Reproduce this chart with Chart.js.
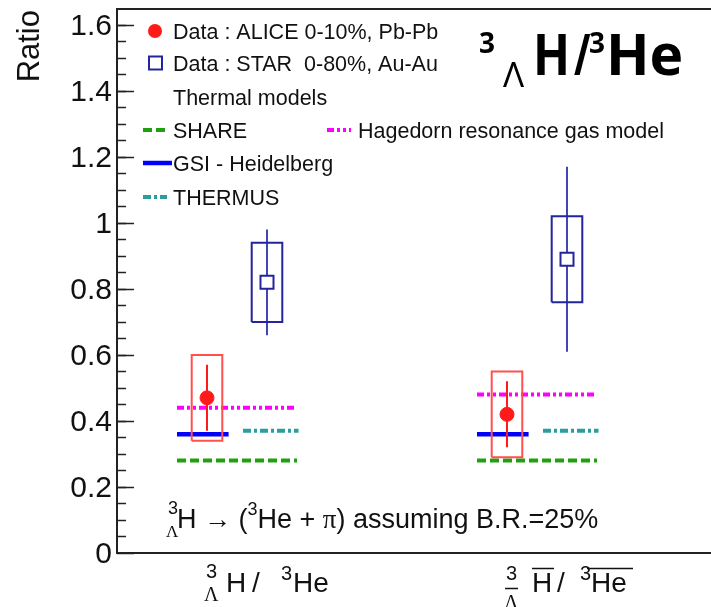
<!DOCTYPE html>
<html>
<head>
<meta charset="utf-8">
<script src="https://cdn.jsdelivr.net/npm/chart.js@4.4.1/dist/chart.umd.min.js"></script>
<style>
  body { margin: 0; background: #fff; }
  canvas { display: block; }
</style>
</head>
<body>
<canvas id="ratioChart" width="711" height="607"></canvas>
<script>
// values
const categories = [1, 2]; // hypertriton/3He and the anti-particle ratio
const aliceRatio = [0.47, 0.42];
const aliceStat = [0.10, 0.10];
const aliceSyst = [0.13, 0.13];
const starRatio = [0.82, 0.89];
const starStat = [0.16, 0.28];
const starSyst = [0.12, 0.13];
const shareModel = [0.28, 0.28];
const gsiModel = [0.36, 0.36];
const thermusModel = [0.37, 0.37];
const hagedornModel = [0.44, 0.48];
const yTicks = [0, 0.2, 0.4, 0.6, 0.8, 1, 1.2, 1.4, 1.6];
const yTickLabels = ['0', '0.2', '0.4', '0.6', '0.8', '1', '1.2', '1.4', '1.6'];
const legendLabels = ['Data : ALICE 0-10%, Pb-Pb', 'Data : STAR  0-80%, Au-Au', 'Thermal models',
  'SHARE', 'GSI - Heidelberg', 'THERMUS', 'Hagedorn resonance gas model'];

// styles
const RED = '#ff1a1a';
const RED_BOX = '#ff5050';
const NAVY = '#24249c';
const GREEN = '#20a010';
const BLUE = '#0000ff';
const TEAL = '#2b9d9d';
const MAGENTA = '#ff00ff';
const dashShare = [9, 4];
const dashThermus = [8, 3, 3, 3];
const dashHagedorn = [7, 3, 3, 3, 3, 3];
const SANS = '"Liberation Sans", Arial, sans-serif';
const SERIF = '"Liberation Serif", serif';
const TITLE = '"Open Sans", Lato, sans-serif';

// helpers building point lists from the arrays
function hLine(values, from, to) {
  const pts = [];
  categories.forEach((c, i) => {
    pts.push({x: c + from, y: values[i]}, {x: c + to, y: values[i]}, {x: c + to, y: null});
  });
  return pts;
}
function errBar(values, errs, dx) {
  const pts = [];
  categories.forEach((c, i) => {
    pts.push({x: c + dx, y: values[i] - errs[i]}, {x: c + dx, y: values[i] + errs[i]}, {x: c + dx, y: null});
  });
  return pts;
}
function boxes(values, errs, dx, hw) {
  const pts = [];
  categories.forEach((c, i) => {
    const lo = values[i] - errs[i], hi = values[i] + errs[i];
    pts.push({x: c + dx - hw, y: lo}, {x: c + dx + hw, y: lo}, {x: c + dx + hw, y: hi},
      {x: c + dx - hw, y: hi}, {x: c + dx - hw, y: lo}, {x: c + dx - hw, y: null});
  });
  return pts;
}
function points(values, dx) {
  return categories.map((c, i) => ({x: c + dx, y: values[i]}));
}

function lineSet(data, color, width, dash, order) {
  return {type: 'line', data: data, borderColor: color, borderWidth: width, borderDash: dash,
    pointRadius: 0, spanGaps: false, tension: 0, fill: false, order: order, borderCapStyle: 'butt'};
}

const datasets = [
  lineSet(hLine(shareModel, -0.2, 0.2), GREEN, 4, dashShare, 10),
  lineSet(hLine(hagedornModel, -0.2, 0.2), MAGENTA, 4, dashHagedorn, 9),
  lineSet(hLine(thermusModel, 0.02, 0.205), TEAL, 4, dashThermus, 8),
  lineSet(hLine(gsiModel, -0.2, -0.028), BLUE, 4.5, [], 7),
  lineSet(errBar(starRatio, starStat, 0.1), '#4444b4', 2, [], 6),
  lineSet(boxes(starRatio, starSyst, 0.1, 0.051), NAVY, 2, [], 5),
  lineSet(errBar(aliceRatio, aliceStat, -0.1), RED, 2, [], 4),
  lineSet(boxes(aliceRatio, aliceSyst, -0.1, 0.051), RED_BOX, 2, [], 3),
  {type: 'scatter', data: points(starRatio, 0.1), pointStyle: 'rect', pointRadius: 9.2,
    pointBackgroundColor: '#fff', pointBorderColor: NAVY, pointBorderWidth: 2, order: 2},
  {type: 'scatter', data: points(aliceRatio, -0.1), pointStyle: 'circle', pointRadius: 7,
    pointBackgroundColor: RED, pointBorderColor: RED, pointBorderWidth: 1, order: 1}
];

function drawRuns(ctx, x, y, runs) {
  runs.forEach(r => {
    ctx.font = r.font;
    ctx.fillText(r.t, x, y + (r.dy || 0));
    x += ctx.measureText(r.t).width;
  });
  return x;
}
function bar(ctx, x1, x2, y) {
  ctx.beginPath();
  ctx.moveTo(x1, y);
  ctx.lineTo(x2, y);
  ctx.stroke();
}
// text squeezed horizontally, for the narrow bold title glyphs
function narrowText(ctx, text, x, y, sx) {
  ctx.save();
  ctx.translate(x, y);
  ctx.scale(sx, 1);
  ctx.fillText(text, 0, 0);
  ctx.restore();
}

// axes, legend and labels drawn on top of the chart
const framePlugin = {
  id: 'frame',
  afterDraw(chart) {
    const ctx = chart.ctx;
    const area = chart.chartArea;
    const ys = chart.scales.y;
    ctx.save();
    ctx.strokeStyle = '#222';
    ctx.lineWidth = 2;
    ctx.beginPath();
    ctx.moveTo(area.right, area.top);
    ctx.lineTo(area.left, area.top);
    ctx.lineTo(area.left, area.bottom);
    ctx.lineTo(area.right, area.bottom);
    ctx.stroke();

    // minor ticks every 0.05, major at the labelled ticks
    ctx.lineWidth = 1.5;
    for (let v = 0.05; v < ys.max; v += 0.05) {
      const y = Math.round(ys.getPixelForValue(v)) + 0.5;
      bar(ctx, area.left, area.left + 9, y);
    }
    ctx.fillStyle = '#111';
    ctx.font = '30px ' + SANS;
    ctx.textAlign = 'right';
    ctx.textBaseline = 'middle';
    yTicks.forEach((v, i) => {
      const y = Math.round(ys.getPixelForValue(v)) + 0.5;
      bar(ctx, area.left, area.left + 17, y);
      ctx.fillText(yTickLabels[i], area.left - 5, y + 1);
    });

    // y title
    ctx.save();
    ctx.translate(39, 10);
    ctx.rotate(-Math.PI / 2);
    ctx.textAlign = 'right';
    ctx.textBaseline = 'alphabetic';
    ctx.font = '31px ' + SANS;
    ctx.fillText('Ratio', 0, 0);
    ctx.restore();

    // legend
    const rows = [31, 63, 97, 130, 163, 197];
    ctx.textAlign = 'left';
    ctx.textBaseline = 'alphabetic';
    ctx.font = '21.5px ' + SANS;
    ctx.fillStyle = '#111';
    [0, 1, 2, 3, 4, 5].forEach(i => ctx.fillText(legendLabels[i], 173, rows[i] + 7.5));
    ctx.fillText(legendLabels[6], 358, rows[3] + 7.5);
    ctx.fillStyle = RED;
    ctx.beginPath();
    ctx.arc(155, rows[0], 7, 0, Math.PI * 2);
    ctx.fill();
    ctx.strokeStyle = NAVY;
    ctx.lineWidth = 2;
    ctx.strokeRect(149, rows[1] - 6.5, 13, 13);
    const legendLine = (x1, x2, y, color, w, dash) => {
      ctx.strokeStyle = color;
      ctx.lineWidth = w;
      ctx.setLineDash(dash);
      bar(ctx, x1, x2, y);
      ctx.setLineDash([]);
    };
    legendLine(143, 166, rows[3], GREEN, 4, dashShare);
    legendLine(327, 351, rows[3], MAGENTA, 4, dashHagedorn);
    legendLine(143, 172, rows[4], BLUE, 4.5, []);
    legendLine(143, 167, rows[5], TEAL, 4, dashThermus);

    // big title
    ctx.fillStyle = '#000';
    ctx.font = 'bold 28px ' + TITLE;
    ctx.fillText('3', 479, 53);
    ctx.fillText('3', 589, 53);
    ctx.font = '35px ' + TITLE;
    ctx.fillText('\u039B', 503, 87);
    ctx.font = 'bold 57px ' + TITLE;
    narrowText(ctx, 'H', 533, 75, 0.85);
    narrowText(ctx, '/', 574, 75, 0.7);
    ctx.fillText('He', 606, 75);

    // decay annotation
    ctx.fillStyle = '#111';
    ctx.font = '18px ' + SANS;
    ctx.fillText('3', 168, 514);
    ctx.font = '17px ' + SERIF;
    ctx.fillText('\u039B', 166, 537);
    drawRuns(ctx, 177, 528, [
      {t: 'H \u2192 (', font: '27px ' + SANS},
      {t: '3', font: '18px ' + SANS, dy: -13},
      {t: 'He + ', font: '27px ' + SANS},
      {t: '\u03C0', font: '27px ' + SERIF},
      {t: ') assuming B.R.=25%', font: '27px ' + SANS}
    ]);

    // category labels
    ctx.lineWidth = 1.5;
    ctx.strokeStyle = '#111';
    ctx.font = '20px ' + SANS;
    ctx.fillText('3', 206, 578);
    ctx.font = '20px ' + SERIF;
    ctx.fillText('\u039B', 204, 601);
    ctx.font = '28px ' + SANS;
    ctx.fillText('H', 226, 592);
    ctx.fillText('/', 252, 592);
    ctx.font = '20px ' + SANS;
    ctx.fillText('3', 281, 580);
    ctx.font = '28px ' + SANS;
    ctx.fillText('He', 293, 592);

    ctx.font = '20px ' + SANS;
    ctx.fillText('3', 506, 580);
    bar(ctx, 505, 518, 588.5);
    ctx.font = '20px ' + SERIF;
    ctx.fillText('\u039B', 504, 609);
    ctx.font = '28px ' + SANS;
    ctx.fillText('H', 532, 592);
    bar(ctx, 532, 554, 568.5);
    ctx.fillText('/', 557, 592);
    ctx.font = '20px ' + SANS;
    ctx.fillText('3', 580, 580);
    ctx.font = '28px ' + SANS;
    ctx.fillText('He', 591, 592);
    bar(ctx, 587, 633, 568.5);
    ctx.restore();
  }
};

new Chart(document.getElementById('ratioChart'), {
  type: 'scatter',
  data: {datasets: datasets},
  options: {
    responsive: false,
    animation: false,
    devicePixelRatio: 1,
    layout: {autoPadding: false, padding: {left: 117, top: 9, right: 0, bottom: 54}},
    plugins: {legend: {display: false}, tooltip: {enabled: false}},
    scales: {
      x: {type: 'linear', min: 0.6, max: 2.58, display: false},
      y: {type: 'linear', min: 0, max: 1.648, display: false}
    }
  },
  plugins: [framePlugin]
});
</script>
</body>
</html>
